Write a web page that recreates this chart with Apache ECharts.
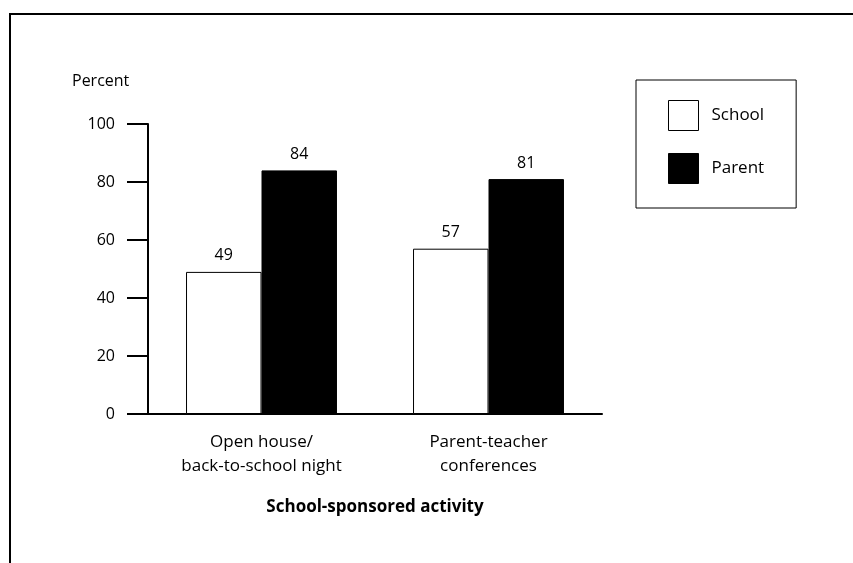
<!DOCTYPE html>
<html>
<head>
<meta charset="utf-8">
<script src="https://cdn.jsdelivr.net/npm/echarts@6/dist/echarts.min.js"></script>
<style>
  html, body { margin: 0; padding: 0; background: #fff; }
  #main { width: 853px; height: 563px; }
</style>
</head>
<body>
<div id="main"></div>
<script>
var categories = ['Open house/\nback-to-school night', 'Parent-teacher\nconferences'];
var schoolValues = [49, 57];
var parentValues = [84, 81];
var seriesNames = ['School', 'Parent'];

var font = 'Open Sans';
var chartDom = document.getElementById('main');
var myChart = echarts.init(chartDom);

var option = {
  backgroundColor: '#ffffff',
  animation: false,
  textStyle: { fontFamily: font, color: '#000' },
  title: {
    text: 'Percent',
    left: 72,
    top: 73,
    padding: 0,
    textStyle: { fontFamily: font, fontSize: 16, fontWeight: 'normal', color: '#000' }
  },
  legend: {
    data: seriesNames,
    orient: 'vertical',
    icon: 'rect',
    left: 636,
    top: 80,
    padding: [20, 32, 24, 32],
    borderColor: '#000',
    borderWidth: 1,
    itemWidth: 30,
    itemHeight: 30,
    itemGap: 22,
    itemStyle: { borderWidth: 1, borderColor: '#000' },
    textStyle: { fontFamily: font, fontSize: 17, color: '#000', padding: [0, 0, 0, 8] }
  },
  grid: { left: 148, right: 251, top: 124, bottom: 149, containLabel: false },
  xAxis: {
    type: 'category',
    data: categories,
    name: 'School-sponsored activity',
    nameLocation: 'middle',
    nameGap: 85,
    nameTextStyle: { fontFamily: font, fontSize: 17, fontWeight: 'bold', color: '#000' },
    axisLine: { lineStyle: { color: '#000', width: 2 } },
    axisTick: { show: false },
    axisLabel: { fontFamily: font, fontSize: 17, color: '#000', lineHeight: 24, margin: 16 }
  },
  yAxis: {
    type: 'value',
    min: 0,
    max: 100,
    interval: 20,
    axisLine: { show: true, lineStyle: { color: '#000', width: 2 } },
    axisTick: { show: true, inside: false, length: 21, lineStyle: { color: '#000', width: 2 } },
    axisLabel: { fontFamily: font, fontSize: 16, color: '#000', margin: 33 },
    splitLine: { show: false }
  },
  series: [
    {
      name: seriesNames[0],
      type: 'bar',
      data: schoolValues,
      barGap: '0%',
      barCategoryGap: '33.5%',
      itemStyle: { color: '#ffffff', borderColor: '#000', borderWidth: 1 },
      label: { show: true, position: 'top', distance: 8, fontFamily: font, fontSize: 16, color: '#000' }
    },
    {
      name: seriesNames[1],
      type: 'bar',
      data: parentValues,
      barGap: '0%',
      barCategoryGap: '33.5%',
      itemStyle: { color: '#000000', borderColor: '#000', borderWidth: 1 },
      label: { show: true, position: 'top', distance: 8, fontFamily: font, fontSize: 16, color: '#000' }
    }
  ],
  graphic: [
    { type: 'line', shape: { x1: 9, y1: 14, x2: 853, y2: 14 }, style: { stroke: '#000', lineWidth: 2 } },
    { type: 'line', shape: { x1: 10, y1: 13, x2: 10, y2: 563 }, style: { stroke: '#000', lineWidth: 2 } }
  ]
};
myChart.setOption(option);
</script>
</body>
</html>
